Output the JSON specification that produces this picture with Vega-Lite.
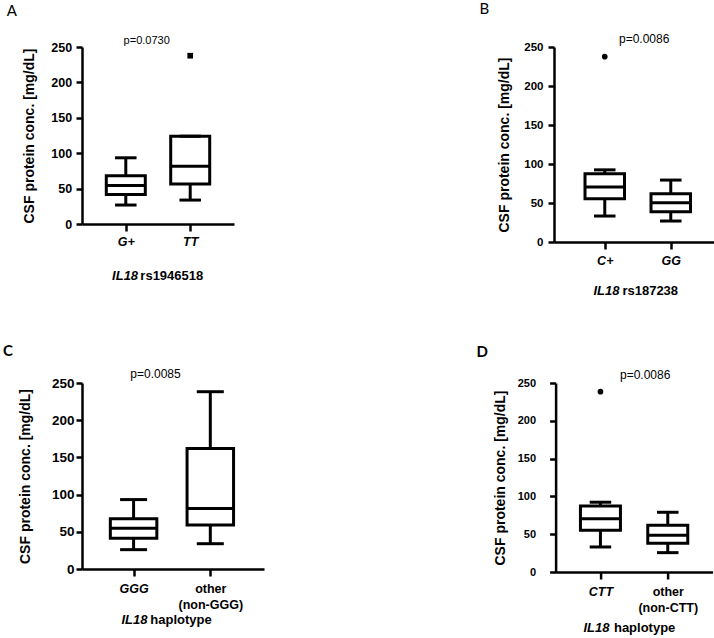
{
  "$schema": "https://vega.github.io/schema/vega-lite/v6.json",
  "background": "white",
  "padding": {"left": 3, "top": 2, "right": 0, "bottom": 0},
  "datasets": {
    "A_box": [
      {"group": "G+", "lower": 26.8, "q1": 41.5, "median": 54.4, "q3": 68, "upper": 93.5},
      {"group": "TT", "lower": 33.8, "q1": 56.5, "median": 81.5, "q3": 124, "upper": 124}
    ],
    "A_out": [{"group": "TT", "value": 237.7}],
    "B_box": [
      {"group": "C+", "lower": 33.3, "q1": 55.4, "median": 70.4, "q3": 87.4, "upper": 92.5},
      {"group": "GG", "lower": 26.9, "q1": 38.8, "median": 50.3, "q3": 61.8, "upper": 79.4}
    ],
    "B_out": [{"group": "C+", "value": 237.6}],
    "C_box": [
      {"group": "GGG", "lower": 26, "q1": 41.3, "median": 54.8, "q3": 67.7, "upper": 93.3},
      {"group": "other (non-GGG)", "lower": 34, "q1": 59.2, "median": 81.2, "q3": 162, "upper": 238.3}
    ],
    "D_box": [
      {"group": "CTT", "lower": 33.1, "q1": 55.2, "median": 70.6, "q3": 87.4, "upper": 92.3},
      {"group": "other (non-CTT)", "lower": 25.6, "q1": 38, "median": 48.6, "q3": 61.9, "upper": 79}
    ],
    "D_out": [{"group": "CTT", "value": 238.5}]
  },
  "config": {
    "font": "Liberation Sans",
    "view": {"stroke": null},
    "tick": {"opacity": 1},
    "axis": {
      "grid": false,
      "domainColor": "black",
      "domainWidth": 2.5,
      "tickColor": "black",
      "tickWidth": 2.5,
      "tickSize": 6,
      "labelColor": "black",
      "labelFont": "Liberation Sans",
      "labelFontWeight": "bold",
      "labelFontSize": 12.5,
      "titleColor": "black",
      "titleFont": "Liberation Sans",
      "titleFontWeight": "bold"
    },
    "axisY": {"titleFontSize": 14},
    "axisX": {"labelAngle": 0, "tickSize": 7, "labelPadding": 4, "titleFontSize": 13, "titleFontStyle": "italic", "titleAlign": "right", "labelLineHeight": 16},
    "title": {"color": "black", "font": "Liberation Sans"}
  },
  "vconcat": [
    {
      "hconcat": [
        {
          "title": {"text": "A", "anchor": "start", "frame": "bounds", "dx": -15.5, "offset": 16, "fontSize": 15, "fontWeight": "normal", "font": "Lato"},
          "vconcat": [
            {
              "title": {"text": "rs1946518", "orient": "bottom", "anchor": "start", "frame": "bounds", "dx": 118, "dy": -13, "offset": 0, "fontSize": 13, "fontWeight": "bold"},
              "vconcat": [
                {
                  "width": 152,
                  "height": 177,
                  "title": {"text": "p=0.0730", "anchor": "start", "frame": "group", "dx": 41.6, "offset": -5, "fontSize": 11, "fontWeight": "normal"},
                  "encoding": {
                    "x": {"field": "group", "type": "nominal", "sort": null, "scale": {"type": "point", "padding": 0.68},
                      "axis": {"title": "IL18", "titleX": 55.6, "titlePadding": 22, "labelFontStyle": "italic"}},
                    "y": {"type": "quantitative", "scale": {"domain": [0, 250], "nice": false},
                      "axis": {"title": "CSF protein conc. [mg/dL]", "values": [0, 50, 100, 150, 200, 250], "labelFontSize": 12.5, "labelPadding": 4.4, "titlePadding": 14.4}}
                  },
                  "layer": [
                    {"data": {"name": "A_box"}, "mark": {"type": "rule", "color": "black", "strokeWidth": 3},
                      "encoding": {"y": {"field": "lower"}, "y2": {"field": "upper"}}},
                    {"data": {"name": "A_box"}, "mark": {"type": "bar", "width": 39, "fill": "white", "stroke": "black", "strokeWidth": 3},
                      "encoding": {"y": {"field": "q1"}, "y2": {"field": "q3"}}},
                    {"data": {"name": "A_box"}, "mark": {"type": "tick", "color": "black", "size": 39, "thickness": 3},
                      "encoding": {"y": {"field": "median"}}},
                    {"data": {"name": "A_box"}, "mark": {"type": "tick", "color": "black", "size": 21.5, "thickness": 3},
                      "encoding": {"y": {"field": "lower"}}},
                    {"data": {"name": "A_box"}, "mark": {"type": "tick", "color": "black", "size": 21.5, "thickness": 3},
                      "encoding": {"y": {"field": "upper"}}},
                    {"data": {"name": "A_out"}, "mark": {"type": "point", "shape": "square", "filled": true, "color": "black", "size": 32, "opacity": 1},
                      "encoding": {"y": {"field": "value"}}}
                  ]
                }
              ]
            }
          ]
        },
        {
          "title": {"text": "B", "anchor": "start", "frame": "bounds", "dx": -18, "offset": 16, "fontSize": 15, "fontWeight": "normal", "font": "Lato"},
          "vconcat": [
            {
              "title": {"text": "rs187238", "orient": "bottom", "anchor": "start", "frame": "bounds", "dx": 125, "dy": -13, "offset": 0, "fontSize": 13, "fontWeight": "bold"},
              "vconcat": [
                {
                  "width": 160,
                  "height": 195,
                  "title": {"text": "p=0.0086", "anchor": "start", "frame": "group", "dx": 65, "offset": -5, "fontSize": 12, "fontWeight": "normal"},
                  "encoding": {
                    "x": {"field": "group", "type": "nominal", "sort": null, "scale": {"type": "point", "padding": 0.712, "align": 0.54},
                      "axis": {"title": "IL18", "titleX": 65, "titlePadding": 18, "labelPadding": 5, "labelFontStyle": "italic"}},
                    "y": {"type": "quantitative", "scale": {"domain": [0, 250], "nice": false},
                      "axis": {"title": "CSF protein conc. [mg/dL]", "values": [0, 50, 100, 150, 200, 250], "labelFontSize": 11.5, "labelPadding": 5, "titlePadding": 12.4}}
                  },
                  "layer": [
                    {"data": {"name": "B_box"}, "mark": {"type": "rule", "color": "black", "strokeWidth": 3},
                      "encoding": {"y": {"field": "lower"}, "y2": {"field": "upper"}}},
                    {"data": {"name": "B_box"}, "mark": {"type": "bar", "width": 39.5, "fill": "white", "stroke": "black", "strokeWidth": 3},
                      "encoding": {"y": {"field": "q1"}, "y2": {"field": "q3"}}},
                    {"data": {"name": "B_box"}, "mark": {"type": "tick", "color": "black", "size": 39.5, "thickness": 3},
                      "encoding": {"y": {"field": "median"}}},
                    {"data": {"name": "B_box"}, "mark": {"type": "tick", "color": "black", "size": 21.5, "thickness": 3},
                      "encoding": {"y": {"field": "lower"}}},
                    {"data": {"name": "B_box"}, "mark": {"type": "tick", "color": "black", "size": 21.5, "thickness": 3},
                      "encoding": {"y": {"field": "upper"}}},
                    {"data": {"name": "B_out"}, "mark": {"type": "point", "shape": "circle", "filled": true, "color": "black", "size": 32, "opacity": 1},
                      "encoding": {"y": {"field": "value"}}}
                  ]
                }
              ]
            }
          ]
        }
      ],
      "spacing": 245
    },
    {
      "hconcat": [
        {
          "title": {"text": "C", "anchor": "start", "frame": "bounds", "dx": -15.5, "offset": 9, "fontSize": 15, "fontWeight": "bold", "font": "Lato"},
          "vconcat": [
            {
              "title": {"text": "haplotype", "orient": "bottom", "anchor": "start", "frame": "bounds", "dx": 131.7, "dy": -13, "offset": 0, "fontSize": 13, "fontWeight": "bold"},
              "vconcat": [
                {
                  "width": 182,
                  "height": 186,
                  "title": {"text": "p=0.0085", "anchor": "start", "frame": "group", "dx": 48.3, "offset": -5, "fontSize": 12, "fontWeight": "normal"},
                  "encoding": {
                    "x": {"field": "group", "type": "nominal", "sort": null, "scale": {"type": "point", "padding": 0.686, "align": 0.49},
                      "axis": {"title": "IL18", "titleX": 65, "titlePadding": 3, "labelPadding": 6,
                        "labelExpr": "split(replace(datum.label, ' (', '|('), '|')",
                        "labelFontStyle": {"condition": {"test": "indexof(datum.value, 'other') == 0", "value": "normal"}, "value": "italic"}}},
                    "y": {"type": "quantitative", "scale": {"domain": [0, 250], "nice": false},
                      "axis": {"title": "CSF protein conc. [mg/dL]", "values": [0, 50, 100, 150, 200, 250], "labelFontSize": 13.5, "labelPadding": 2, "titlePadding": 18.9}}
                  },
                  "layer": [
                    {"data": {"name": "C_box"}, "mark": {"type": "rule", "color": "black", "strokeWidth": 3},
                      "encoding": {"y": {"field": "lower"}, "y2": {"field": "upper"}}},
                    {"data": {"name": "C_box"}, "mark": {"type": "bar", "width": 46.5, "fill": "white", "stroke": "black", "strokeWidth": 3},
                      "encoding": {"y": {"field": "q1"}, "y2": {"field": "q3"}}},
                    {"data": {"name": "C_box"}, "mark": {"type": "tick", "color": "black", "size": 46.5, "thickness": 3},
                      "encoding": {"y": {"field": "median"}}},
                    {"data": {"name": "C_box"}, "mark": {"type": "tick", "color": "black", "size": 27, "thickness": 3},
                      "encoding": {"y": {"field": "lower"}}},
                    {"data": {"name": "C_box"}, "mark": {"type": "tick", "color": "black", "size": 27, "thickness": 3},
                      "encoding": {"y": {"field": "upper"}}}
                  ]
                }
              ]
            }
          ]
        },
        {
          "title": {"text": "D", "anchor": "start", "frame": "bounds", "dx": -17.5, "offset": 9, "fontSize": 15, "fontWeight": "bold", "font": "Lato"},
          "vconcat": [
            {
              "title": {"text": "haplotype", "orient": "bottom", "anchor": "start", "frame": "bounds", "dx": 120, "dy": -13, "offset": 0, "fontSize": 13, "fontWeight": "bold"},
              "vconcat": [
                {
                  "width": 157,
                  "height": 189,
                  "title": {"text": "p=0.0086", "anchor": "start", "frame": "group", "dx": 64.4, "offset": -5, "fontSize": 12, "fontWeight": "normal"},
                  "encoding": {
                    "x": {"field": "group", "type": "nominal", "sort": null, "scale": {"type": "point", "padding": 0.666},
                      "axis": {"title": "IL18", "titleX": 53.4, "titlePadding": 8, "labelPadding": 6,
                        "labelExpr": "split(replace(datum.label, ' (', '|('), '|')",
                        "labelFontStyle": {"condition": {"test": "indexof(datum.value, 'other') == 0", "value": "normal"}, "value": "italic"}}},
                    "y": {"type": "quantitative", "scale": {"domain": [0, 250], "nice": false},
                      "axis": {"title": "CSF protein conc. [mg/dL]", "values": [0, 50, 100, 150, 200, 250], "labelFontSize": 11, "labelPadding": 14, "titlePadding": 9.3}}
                  },
                  "layer": [
                    {"data": {"name": "D_box"}, "mark": {"type": "rule", "color": "black", "strokeWidth": 3},
                      "encoding": {"y": {"field": "lower"}, "y2": {"field": "upper"}}},
                    {"data": {"name": "D_box"}, "mark": {"type": "bar", "width": 40, "fill": "white", "stroke": "black", "strokeWidth": 3},
                      "encoding": {"y": {"field": "q1"}, "y2": {"field": "q3"}}},
                    {"data": {"name": "D_box"}, "mark": {"type": "tick", "color": "black", "size": 40, "thickness": 3},
                      "encoding": {"y": {"field": "median"}}},
                    {"data": {"name": "D_box"}, "mark": {"type": "tick", "color": "black", "size": 21.5, "thickness": 3},
                      "encoding": {"y": {"field": "lower"}}},
                    {"data": {"name": "D_box"}, "mark": {"type": "tick", "color": "black", "size": 21.5, "thickness": 3},
                      "encoding": {"y": {"field": "upper"}}},
                    {"data": {"name": "D_out"}, "mark": {"type": "point", "shape": "circle", "filled": true, "color": "black", "size": 32, "opacity": 1},
                      "encoding": {"y": {"field": "value"}}}
                  ]
                }
              ]
            }
          ]
        }
      ],
      "spacing": 211.6
    }
  ],
  "spacing": 46
}
